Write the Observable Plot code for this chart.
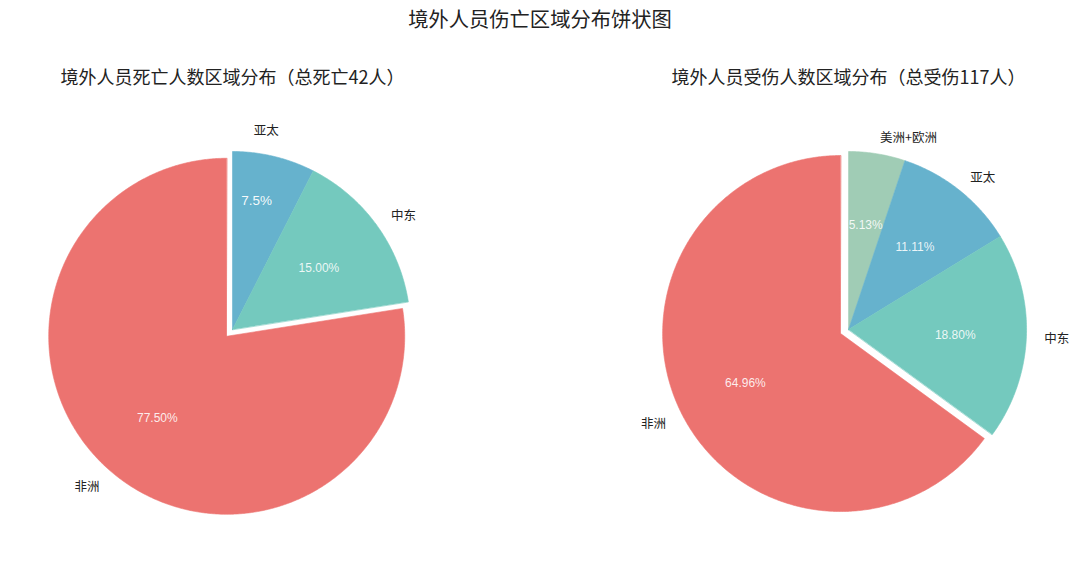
<!DOCTYPE html>
<html><head><meta charset="utf-8">
<script src="https://cdn.jsdelivr.net/npm/d3@7"></script>
<script src="https://cdn.jsdelivr.net/npm/@observablehq/plot@0.6"></script>
<style>
body{margin:0;background:#fff;}
#title{height:40px;line-height:36px;text-align:center;font-family:"Noto Sans CJK SC","Noto Sans",sans-serif;font-size:20.3px;color:#222;}
</style></head><body>
<div id="title">境外人员伤亡区域分布饼状图</div>
<div id="chart"></div>
<script>
// ---- data ----
const chartTitles = ["境外人员死亡人数区域分布（总死亡42人）", "境外人员受伤人数区域分布（总受伤117人）"];
const deathRegions = ["亚太", "中东", "非洲"];
const deathShares = [7.5, 15.0, 77.5];
const deathPctLabels = ["7.5%", "15.00%", "77.50%"];
const injuryRegions = ["美洲+欧洲", "亚太", "中东", "非洲"];
const injuryCounts = [6, 13, 22, 76];
const injuryPctLabels = injuryCounts.map(v => (v / d3.sum(injuryCounts) * 100).toFixed(2) + "%");
const colorDomain = ["非洲", "中东", "亚太", "美洲+欧洲"];
const colorRange = ["#EC7370", "#74C9BE", "#66B2CD", "#A0CCB5"];

// ---- geometry (units of pie radius) ----
const pies = [
  {name: "death", regions: deathRegions, values: deathShares, pct: deathPctLabels, cx: 0, cy: 0},
  {name: "injury", regions: injuryRegions, values: injuryCounts, pct: injuryPctLabels, cx: 3.461, cy: 0}
];
const slicePts = [], regionLabels = [], pctLabels = [], titleLabels = [];
pies.forEach((p, pi) => {
  const total = d3.sum(p.values);
  let acc = 0;
  titleLabels.push({x: p.cx, text: chartTitles[pi]});
  p.regions.forEach((r, i) => {
    const a0 = acc / total * 2 * Math.PI;
    acc += p.values[i];
    const a1 = acc / total * 2 * Math.PI;
    const mid = (a0 + a1) / 2;
    const ex = r === "非洲" ? 0.05 : 0;
    const ox = p.cx + ex * Math.sin(mid), oy = p.cy + ex * Math.cos(mid);
    const id = p.name + "-" + r;
    slicePts.push({id, region: r, x: ox, y: oy});
    const n = Math.max(4, Math.ceil((a1 - a0) / (Math.PI / 360)));
    for (let k = 0; k <= n; k++) {
      const a = a0 + (a1 - a0) * k / n;
      slicePts.push({id, region: r, x: ox + Math.sin(a), y: oy + Math.cos(a)});
    }
    let ld = 1.1, la = mid, anchor = Math.sin(mid) > 0 ? "start" : "end";
    let pd = 0.6, pa = mid, big = false;
    if (p.name === "death" && r === "亚太") { // hand-placed labels in the original
      ld = 1.14; la = mid * 0.71; anchor = "middle";
      pd = 0.74; pa = mid * 0.78; big = true;
    }
    regionLabels.push({x: ox + ld * Math.sin(la), y: oy + ld * Math.cos(la), text: r, anchor});
    pctLabels.push({x: ox + pd * Math.sin(pa), y: oy + pd * Math.cos(pa), text: p.pct[i], big});
  });
});

const W = 1080, H = 521, R = 178, cxPx = 232, cyPx = 289;
const xDom = [-cxPx / R, (W - cxPx) / R];
const yDom = [-(H - cyPx) / R, cyPx / R];
const cjk = '"Noto Sans CJK SC","Noto Sans",sans-serif';
const latin = '"Liberation Sans",Arial,sans-serif';

const chart = Plot.plot({
  width: W, height: H, margin: 0,
  x: {domain: xDom, axis: null},
  y: {domain: yDom, axis: null},
  color: {domain: colorDomain, range: colorRange},
  style: {background: "#fff"},
  marks: [
    Plot.line(slicePts, {x: "x", y: "y", z: "id", fill: "region", stroke: "region", strokeWidth: 0.6, curve: "linear-closed"}),
    ...["start", "end", "middle"].map(a => Plot.text(regionLabels.filter(d => d.anchor === a), {
      x: "x", y: "y", text: "text", textAnchor: a, dy: 2, fontSize: 12.5, fill: "#222", fontFamily: cjk
    })),
    Plot.text(pctLabels.filter(d => !d.big), {x: "x", y: "y", text: "text", dy: 1, fontSize: 12, fill: "#fff", fillOpacity: 0.88, fontFamily: latin}),
    Plot.text(pctLabels.filter(d => d.big), {x: "x", y: "y", text: "text", dy: 1, fontSize: 13.5, fill: "#fff", fillOpacity: 0.95, fontFamily: latin}),
    Plot.text(titleLabels, {x: "x", frameAnchor: "top", dy: 38, text: "text", fontSize: 18, fill: "#222", fontFamily: cjk, lineAnchor: "middle"})
  ]
});
document.getElementById("chart").appendChild(chart);
</script>
</body></html>
